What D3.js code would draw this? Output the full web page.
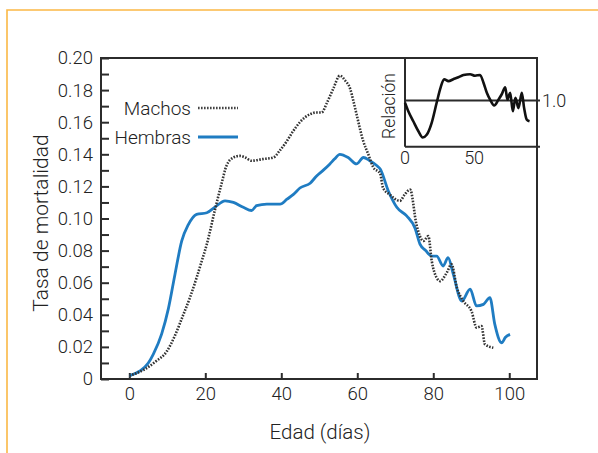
<!DOCTYPE html>
<html>
<head>
<meta charset="utf-8">
<script src="https://cdn.jsdelivr.net/npm/d3@7"></script>
<style>
  html, body { margin: 0; padding: 0; background: #fff; }
  svg { display: block; }
  text { font-family: Roboto, "Liberation Sans", sans-serif; font-weight: 300; fill: #222; }
</style>
</head>
<body>
<svg id="chart" width="598" height="453"></svg>
<script>
// ---- Data ----
const xTicks = [0, 20, 40, 60, 80, 100];
const yTicks = [0, 0.02, 0.04, 0.06, 0.08, 0.10, 0.12, 0.14, 0.16, 0.18, 0.20];
const yTickLabels = ["0", "0.02", "0.04", "0.06", "0.08", "0.10", "0.12", "0.14", "0.16", "0.18", "0.20"];
const yMinorTicks = [0.01, 0.03, 0.05, 0.07, 0.09, 0.11, 0.13, 0.15, 0.17, 0.19];

const seriesNames = ["Machos", "Hembras"];

const machosDays = [0, 4, 7, 9.8, 12, 14.2, 16, 17.7, 19, 20.4, 22.5, 24.2, 25.6, 27.4, 29.1, 30.5, 32.2, 35, 37.9, 39.5,
  41.4, 43, 44.9, 46.2, 47.6, 49, 50.6, 52, 53.7, 55.4, 56.8, 58.1, 59, 59.8, 61.6, 62.9, 64.2, 66, 66.8, 68.5,
  71.2, 72.5, 73.9, 75.6, 77.4, 78.7, 79.6, 80.9, 81.8, 83.5, 84.8, 86.2, 87.9, 90.1, 91.4, 92.7, 93.6, 95.8];
const machosRate = [0.002, 0.006, 0.011, 0.017, 0.027, 0.040, 0.051, 0.063, 0.073, 0.084, 0.105, 0.121, 0.133, 0.138, 0.139, 0.138, 0.136, 0.137, 0.138, 0.142,
  0.148, 0.154, 0.160, 0.163, 0.165, 0.166, 0.166, 0.172, 0.181, 0.189, 0.186, 0.181, 0.173, 0.165, 0.148, 0.140, 0.132, 0.128, 0.119, 0.115,
  0.111, 0.115, 0.118, 0.096, 0.086, 0.089, 0.0735, 0.063, 0.061, 0.066, 0.0715, 0.057, 0.0486, 0.042, 0.032, 0.033, 0.0216, 0.0195];

const hembrasDays = [0, 2.8, 5, 6.3, 8.5, 10.3, 12, 13.8, 15.5, 17.7, 20.4, 22.5, 25.2, 27.4, 30, 32.2, 33.5, 36.2, 39.7, 41.5,
  43.2, 44.9, 47.6, 49.3, 51, 52.8, 54, 55.4, 57.6, 59.8, 61.6, 63.3, 65.1, 66, 68.2, 70.4, 73, 75.2, 76.5, 78,
  79.6, 80.9, 82.6, 83.9, 85.3, 87.5, 89.7, 91.4, 93.2, 94.9, 96.2, 98, 99, 100.2];
const hembrasRate = [0.002, 0.005, 0.010, 0.0154, 0.028, 0.044, 0.065, 0.086, 0.096, 0.1026, 0.1036, 0.107, 0.111, 0.110, 0.107, 0.105, 0.108, 0.109, 0.109, 0.112,
  0.115, 0.119, 0.122, 0.1265, 0.130, 0.134, 0.137, 0.140, 0.138, 0.134, 0.138, 0.136, 0.133, 0.131, 0.117, 0.107, 0.1016, 0.094, 0.084, 0.080,
  0.0766, 0.0766, 0.0704, 0.0756, 0.065, 0.0486, 0.056, 0.0455, 0.0465, 0.0507, 0.034, 0.0226, 0.026, 0.0278];

// Inset: relación (machos / hembras)
const ratioTicks = [0, 50];
const ratioRefValue = 1.0;
const ratioRefLabel = "1.0";
const ratioDays = [0, 2.4, 6, 9.7, 12.8, 15.7, 19.3, 22.9, 25.8, 28.3, 31.4, 35, 38.6, 42.3, 47.1, 50.7, 54.3, 56.8, 59.2, 61.6,
  64.5, 67.6, 70, 72.5, 74.1, 76.1, 78, 79.9, 82.1, 84.5, 86.2, 88.1, 90.1];
const ratioValues = [0.97, 0.86, 0.73, 0.60, 0.52, 0.555, 0.71, 0.97, 1.17, 1.275, 1.25, 1.275, 1.30, 1.33, 1.34, 1.32, 1.33, 1.23, 1.10, 1.01,
  0.935, 1.01, 1.08, 1.17, 1.01, 1.10, 0.86, 1.035, 0.90, 1.10, 0.90, 0.75, 0.73];

// ---- Drawing ----
const svg = d3.select("#chart");
const ink = "#2b2b2b";
const blue = "#1f7cc2";

// orange frame
svg.append("path")
  .attr("d", "M7,453 L7,10 L598,10")
  .attr("fill", "none").attr("stroke", "#fbb845").attr("stroke-width", 1.6);

const L = 101, R = 537, T = 58, B = 379;
const x = d3.scaleLinear().domain([-7.45, 107.3]).range([L, R]);
const y = d3.scaleLinear().domain([0, 0.20]).range([B, T]);

const g = svg.append("g");

// y ticks (inward)
const yAxis = d3.axisLeft(y).tickValues(yTicks).tickSize(-8).tickPadding(8)
  .tickFormat((d, i) => yTickLabels[i]);
const ya = g.append("g").attr("transform", `translate(${L},0)`).call(yAxis);
ya.select(".domain").remove();
ya.selectAll(".tick line").attr("stroke", ink).attr("stroke-width", 2);
ya.selectAll(".tick text").attr("font-size", 18.5).attr("font-family", "Roboto, sans-serif")
  .attr("font-weight", 300).attr("fill", "#222");
const yMinor = d3.axisLeft(y).tickValues(yMinorTicks).tickSize(-8).tickFormat("");
const ym = g.append("g").attr("transform", `translate(${L},0)`).call(yMinor);
ym.select(".domain").remove();
ym.selectAll(".tick line").attr("stroke", ink).attr("stroke-width", 2);

// x ticks (inward)
const xAxis = d3.axisBottom(x).tickValues(xTicks).tickSize(-6).tickPadding(8).tickFormat(d3.format("d"));
const xa = g.append("g").attr("transform", `translate(0,${B})`).call(xAxis);
xa.select(".domain").remove();
xa.selectAll(".tick line").attr("stroke", ink).attr("stroke-width", 2);
xa.selectAll(".tick text").attr("font-size", 18.5).attr("font-family", "Roboto, sans-serif")
  .attr("font-weight", 300).attr("fill", "#222");

// frame
g.append("rect").attr("x", L).attr("y", T).attr("width", R - L).attr("height", B - T)
  .attr("fill", "none").attr("stroke", ink).attr("stroke-width", 2);

// lines
const line = d3.line().x(d => x(d[0])).y(d => y(d[1])).curve(d3.curveMonotoneX);
const machosData = machosDays.map((d, i) => [d, machosRate[i]]);
const hembrasData = hembrasDays.map((d, i) => [d, hembrasRate[i]]);

g.append("path").datum(hembrasData).attr("d", line)
  .attr("fill", "none").attr("stroke", blue).attr("stroke-width", 2.8).attr("stroke-linejoin", "round");
g.append("path").datum(machosData).attr("d", line)
  .attr("fill", "none").attr("stroke", "#333").attr("stroke-width", 2.6).attr("stroke-dasharray", "1.6,1.4");

// legend
const legend = g.append("g");
const legY = [108, 137];
legend.selectAll("text").data(seriesNames).join("text")
  .attr("x", 191).attr("y", (d, i) => legY[i]).attr("dy", "0.35em")
  .attr("text-anchor", "end").attr("font-size", 19).text(d => d);
legend.append("line").attr("x1", 198).attr("x2", 238).attr("y1", legY[0]).attr("y2", legY[0])
  .attr("stroke", "#444").attr("stroke-width", 2.6).attr("stroke-dasharray", "1.6,1.4");
legend.append("line").attr("x1", 198).attr("x2", 238).attr("y1", legY[1]).attr("y2", legY[1])
  .attr("stroke", blue).attr("stroke-width", 2.8);

// axis titles
g.append("text").attr("x", 320).attr("y", 432).attr("dy", "0.35em").attr("text-anchor", "middle")
  .attr("font-size", 20.5).text("Edad (días)");
g.append("text").attr("transform", "translate(41,223) rotate(-90)").attr("dy", "0.35em")
  .attr("text-anchor", "middle").attr("font-size", 21).text("Tasa de mortalidad");

// inset
const iL = 405, iR = 537, iT = 58, iB = 146.7;
const ix = d3.scaleLinear().domain([0, 95.5]).range([iL, iR]);
const iy = d3.scaleLinear().domain([0.4, 1.55]).range([iB, iT]);
const inset = g.append("g");
inset.append("rect").attr("x", iL).attr("y", iT).attr("width", iR - iL).attr("height", iB - iT)
  .attr("fill", "#fff").attr("stroke", "none");
inset.append("line").attr("x1", iL).attr("x2", iL).attr("y1", iT).attr("y2", iB)
  .attr("stroke", ink).attr("stroke-width", 2);
inset.append("line").attr("x1", iL).attr("x2", 540).attr("y1", iB).attr("y2", iB)
  .attr("stroke", ink).attr("stroke-width", 2);
inset.append("line").attr("x1", iL).attr("x2", 540).attr("y1", iy(ratioRefValue)).attr("y2", iy(ratioRefValue))
  .attr("stroke", ink).attr("stroke-width", 2);
inset.append("line").attr("x1", iR).attr("x2", iR).attr("y1", iT).attr("y2", B)
  .attr("stroke", ink).attr("stroke-width", 2);
inset.append("line").attr("x1", iL).attr("x2", iR).attr("y1", iT).attr("y2", iT)
  .attr("stroke", ink).attr("stroke-width", 2);
const ratioLine = d3.line().x(d => ix(d[0])).y(d => iy(d[1])).curve(d3.curveMonotoneX);
inset.append("path").datum(ratioDays.map((d, i) => [d, ratioValues[i]])).attr("d", ratioLine)
  .attr("fill", "none").attr("stroke", "#111").attr("stroke-width", 2.6).attr("stroke-linejoin", "round");
inset.selectAll("text.itick").data(ratioTicks).join("text").attr("class", "itick")
  .attr("x", d => ix(d)).attr("y", 158).attr("dy", "0.35em").attr("text-anchor", "middle")
  .attr("font-size", 18).text(d => d);
inset.append("text").attr("x", 542).attr("y", iy(ratioRefValue)).attr("dy", "0.35em")
  .attr("font-size", 18).text(ratioRefLabel);
inset.append("text").attr("transform", "translate(389,106) rotate(-90)").attr("dy", "0.35em")
  .attr("text-anchor", "middle").attr("font-size", 17.5).text("Relación");
</script>
</body>
</html>
